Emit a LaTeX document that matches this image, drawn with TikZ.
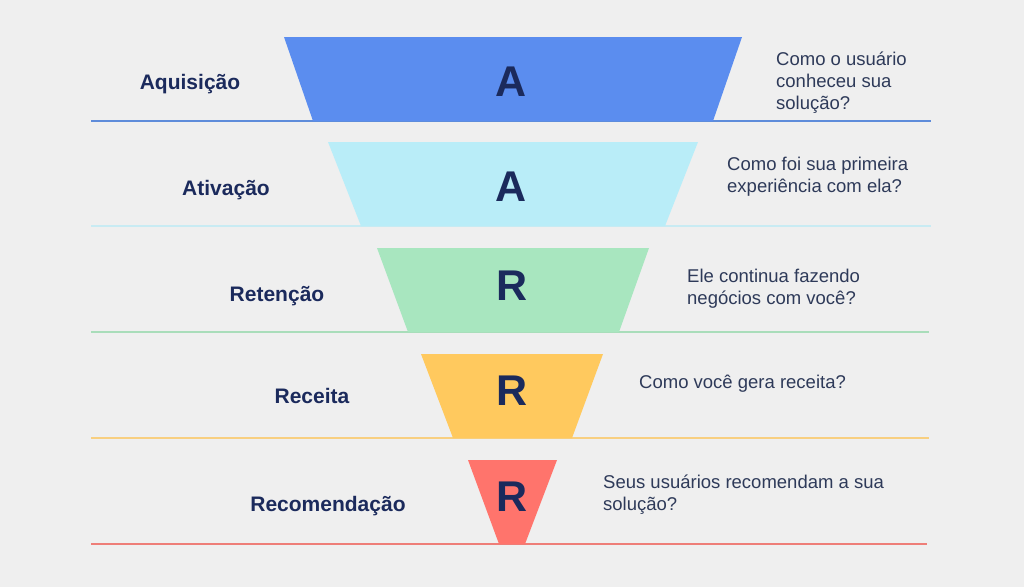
\documentclass[tikz,border=0pt]{standalone}
\usepackage{fontspec}
\setmainfont{Liberation Sans}
\begin{document}
\begin{tikzpicture}[x=1pt,y=-1pt,
  letter/.style={font=\fontsize{43}{43}\selectfont\bfseries, text=letterc, inner sep=0pt},
  stage/.style={font=\fontsize{21}{24}\selectfont\bfseries, text=letterc, inner sep=0pt},
  question/.style={font=\fontsize{18.5}{22}\selectfont, text=qtext, align=left, anchor=west, inner sep=0pt},
  sep/.style={line width=2pt}
]
\definecolor{bg}{HTML}{EFEFEF}
\definecolor{letterc}{HTML}{1B2A5C}
\definecolor{qtext}{HTML}{2E3A59}
\definecolor{c1}{HTML}{5B8DEF}
\definecolor{c2}{HTML}{B9EDF8}
\definecolor{c3}{HTML}{A8E6BF}
\definecolor{c4}{HTML}{FFC95E}
\definecolor{c5}{HTML}{FF746C}
\definecolor{l1}{HTML}{5E8CDA}
\definecolor{l2}{HTML}{C8EBF3}
\definecolor{l3}{HTML}{A9DDBA}
\definecolor{l4}{HTML}{F8CF80}
\definecolor{l5}{HTML}{EE7E78}
\fill[bg] (0,0) rectangle (1024,587);
\useasboundingbox (0,0) rectangle (1024,587);
% separator lines
\draw[sep, l1] (91,121) -- (931,121);
\draw[sep, l2] (91,226) -- (931,226);
\draw[sep, l3] (91,332) -- (929,332);
\draw[sep, l4] (91,438) -- (929,438);
\draw[sep, l5] (91,544) -- (927,544);
% funnel segments
\fill[c1] (284,37) -- (742,37) -- (713,121) -- (313,121) -- cycle;
\fill[c2] (328,142) -- (698,142) -- (665,226) -- (361,226) -- cycle;
\fill[c3] (377,248) -- (649,248) -- (619,332) -- (408,332) -- cycle;
\fill[c4] (421,354) -- (603,354) -- (572,438) -- (453,438) -- cycle;
\fill[c5] (468,460) -- (557,460) -- (525,544) -- (499,544) -- cycle;
% letters
\node[letter] (a1) at (511,82) {A};
\node[letter] (a2) at (511,187) {A};
\node[letter] (r1) at (512,286) {R};
\node[letter] (r2) at (512,391) {R};
\node[letter] (r3) at (512,497) {R};
% stage names
\node[stage] (s1) at (190,84) {Aquisição};
\node[stage] (s2) at (226,190) {Ativação};
\node[stage] (s3) at (277,296) {Retenção};
\node[stage] (s4) at (312,396) {Receita};
\node[stage] (s5) at (328,506) {Recomendação};
% questions
\node[question] (q1) at (776,83) {Como o usuário\\conheceu sua\\solução?};
\node[question] (q2) at (727,177) {Como foi sua primeira\\experiência com ela?};
\node[question] (q3) at (687,289) {Ele continua fazendo\\negócios com você?};
\node[question] (q4) at (639,384) {Como você gera receita?};
\node[question] (q5) at (603,495) {Seus usuários recomendam a sua\\solução?};
\end{tikzpicture}
\end{document}
